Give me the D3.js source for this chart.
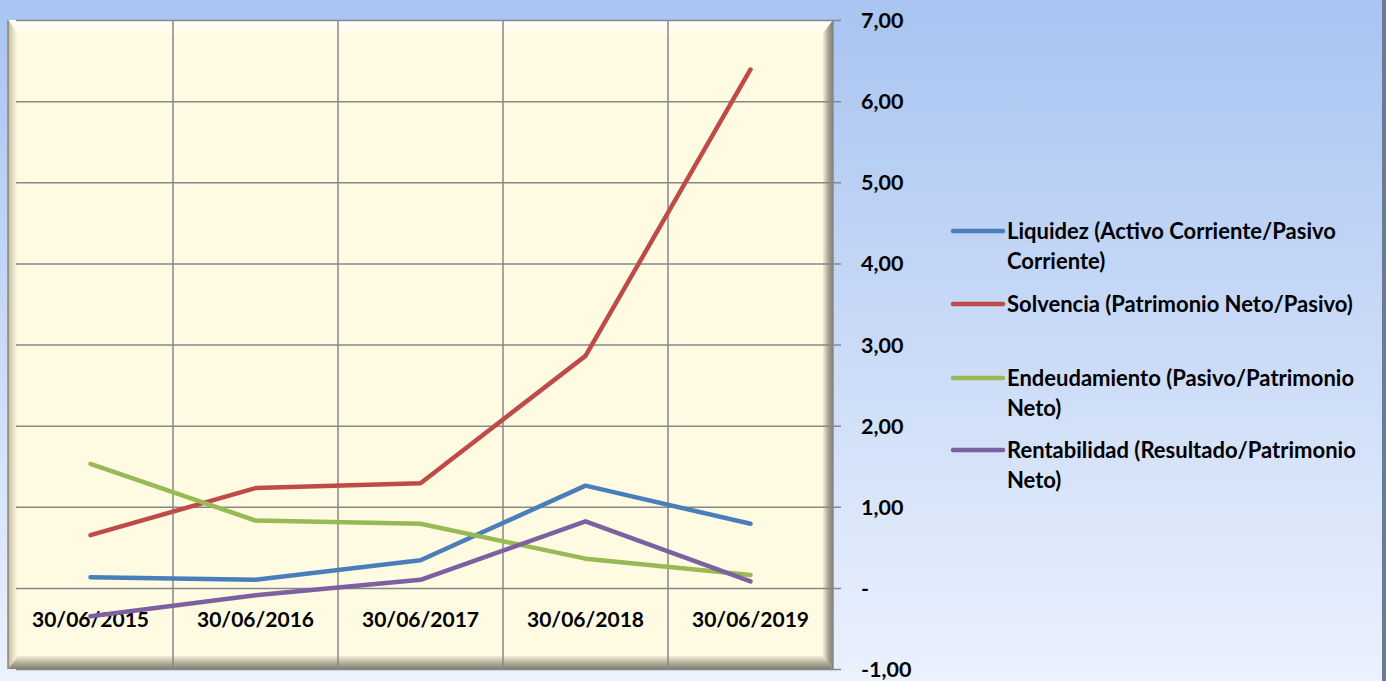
<!DOCTYPE html>
<html>
<head>
<meta charset="utf-8">
<script src="https://cdn.jsdelivr.net/npm/d3@7/dist/d3.min.js"></script>
<style>
  html, body { margin: 0; padding: 0; overflow: hidden; }
  svg { display: block; }
  text { font-family: Lato, "Open Sans", sans-serif; font-weight: bold; fill: #000; }
</style>
</head>
<body>
<svg id="chart" width="1386" height="681"></svg>
<script>
// ---- Data ----
const categories = ["30/06/2015", "30/06/2016", "30/06/2017", "30/06/2018", "30/06/2019"];
const liquidez      = [0.13, 0.10, 0.34, 1.26, 0.79];
const solvencia     = [0.65, 1.23, 1.29, 2.86, 6.39];
const endeudamiento = [1.53, 0.83, 0.79, 0.36, 0.16];
const rentabilidad  = [-0.35, -0.09, 0.10, 0.82, 0.08];
const seriesNames = [
  ["Liquidez (Activo Corriente/Pasivo", "Corriente)"],
  ["Solvencia (Patrimonio Neto/Pasivo)"],
  ["Endeudamiento (Pasivo/Patrimonio", "Neto)"],
  ["Rentabilidad (Resultado/Patrimonio", "Neto)"]
];
const seriesValues = [liquidez, solvencia, endeudamiento, rentabilidad];
const seriesColors = ["#4a7ebb", "#be4b48", "#98b954", "#7d60a0"];
const yTicks = [-1, 0, 1, 2, 3, 4, 5, 6, 7];

// ---- Layout ----
const W = 1386, H = 681;
const plot = { left: 8, right: 833, top: 20, bottom: 669 };
const svg = d3.select("#chart");
const defs = svg.append("defs");

// background gradient
const bg = defs.append("linearGradient").attr("id", "bg").attr("x1", 0).attr("y1", 0).attr("x2", 0).attr("y2", 1);
bg.append("stop").attr("offset", "0%").attr("stop-color", "#a8c4f1");
bg.append("stop").attr("offset", "100%").attr("stop-color", "#ebf1fd");
svg.append("rect").attr("width", W).attr("height", H).attr("fill", "url(#bg)");
svg.append("rect").attr("x", W - 4).attr("y", 0).attr("width", 4).attr("height", H).attr("fill", "#6b7b96");

// scales
const x = d3.scaleBand().domain(categories).range([plot.left, plot.right]).padding(0);
const y = d3.scaleLinear().domain([-1, 7]).range([plot.bottom, plot.top]);
const cx = d => x(d) + x.bandwidth() / 2;

// plot area fill
svg.append("rect").attr("x", plot.left).attr("y", plot.top)
  .attr("width", plot.right - plot.left).attr("height", plot.bottom - plot.top)
  .attr("fill", "#fefbe2");

// bevel
function grad(id, x1, y1, x2, y2, stops) {
  const g = defs.append("linearGradient").attr("id", id)
    .attr("x1", x1).attr("y1", y1).attr("x2", x2).attr("y2", y2);
  stops.forEach(s => g.append("stop").attr("offset", s[0]).attr("stop-color", s[1]).attr("stop-opacity", s[2]));
}
grad("bTop", 0, 0, 0, 1, [["0%", "#ffffff", 0.95], ["100%", "#ffffff", 0.1]]);
grad("bLeft", 0, 0, 1, 0, [["0%", "#b0a080", 0.8], ["100%", "#d8ccae", 0.05]]);
grad("bRight", 0, 0, 1, 0, [["0%", "#9a9282", 0.15], ["55%", "#8a8474", 0.75], ["100%", "#7c776b", 0.95]]);
grad("bBottom", 0, 0, 0, 1, [["0%", "#a09886", 0.15], ["55%", "#8f897a", 0.7], ["100%", "#7c776b", 0.95]]);
const bw = 10, bh = 13;
const L = plot.left, R = plot.right, T = plot.top, B = plot.bottom;
const poly = (pts, fill) => svg.append("polygon").attr("points", pts.map(p => p.join(",")).join(" ")).attr("fill", fill);
poly([[L, T], [R, T], [R - bw, T + bh + 3], [L + bw, T + bh + 3]], "url(#bTop)");
poly([[L, T], [L + bw, T + bh], [L + bw, B - bh], [L, B]], "url(#bLeft)");
poly([[R, T], [R, B], [R - bw, B - bh], [R - bw, T + bh]], "url(#bRight)");
poly([[L, B], [R, B], [R - bw, B - bh], [L + bw, B - bh]], "url(#bBottom)");

// gridlines
const gridColor = "#878787";
const vlines = categories.map(c => x(c)).concat([plot.right]);
svg.append("g").selectAll("line").data(vlines).join("line")
  .attr("x1", d => d).attr("x2", d => d).attr("y1", plot.top).attr("y2", plot.bottom)
  .attr("stroke", gridColor).attr("stroke-width", 1.5);

// y axis (right) with ticks extending out
const fmt = d3.formatLocale({ decimal: ",", thousands: ".", grouping: [3], currency: ["", ""], minus: "-" }).format(",.2f");
const yAxis = d3.axisRight(y).tickValues(yTicks)
  .tickSize(-(plot.right - plot.left))
  .tickFormat(d => d === 0 ? "-" : fmt(d));
const gy = svg.append("g").attr("transform", `translate(${plot.right + 8},0)`).call(yAxis);
gy.select(".domain").remove();
gy.selectAll(".tick line").attr("stroke", gridColor).attr("stroke-width", 1.5);
gy.selectAll(".tick text").attr("x", 20).attr("dy", "0.35em")
  .style("font-size", "21.5px").attr("text-anchor", "start");

// x labels
const xAxis = d3.axisBottom(x).tickSize(0);
const gx = svg.append("g").attr("transform", `translate(0,${y(0)})`).call(xAxis);
gx.select(".domain").remove();
gx.selectAll(".tick text").attr("y", 32).attr("dy", "0.35em").style("font-size", "21px");

// lines
const line = d3.line().x((d, i) => cx(categories[i])).y(d => y(d));
svg.append("g").selectAll("path").data(seriesValues).join("path")
  .attr("d", d => line(d)).attr("fill", "none")
  .attr("stroke", (d, i) => seriesColors[i]).attr("stroke-width", 4.5)
  .attr("stroke-linejoin", "round").attr("stroke-linecap", "round");

// legend
const legendY = [231, 304, 378, 450];
const lg = svg.append("g");
seriesNames.forEach((lines, i) => {
  const g = lg.append("g").attr("transform", `translate(0,${legendY[i]})`);
  g.append("line").attr("x1", 953).attr("x2", 1003).attr("y1", 0).attr("y2", 0)
    .attr("stroke", seriesColors[i]).attr("stroke-width", 4.5).attr("stroke-linecap", "round");
  lines.forEach((t, j) => {
    g.append("text").attr("x", 1007).attr("y", 8 + j * 30).text(t).style("font-size", "22px");
  });
});
</script>
</body>
</html>
